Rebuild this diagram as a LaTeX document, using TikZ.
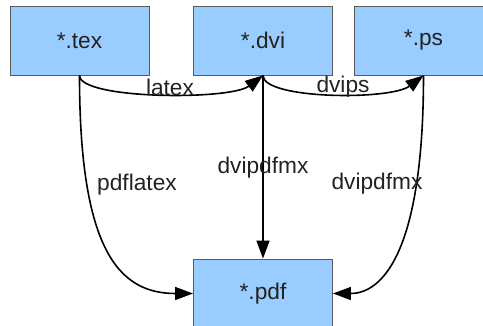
\documentclass[tikz,border=0pt]{standalone}
\usepackage{fontspec}
\setmainfont{Liberation Sans}
\usetikzlibrary{arrows.meta}
\definecolor{boxfill}{HTML}{99CCFF}
\definecolor{boxline}{HTML}{5A5A5A}
\definecolor{txt}{HTML}{222222}
\begin{document}
\begin{tikzpicture}[x=1pt,y=-1pt,
  filebox/.style={draw=boxline, line width=0.9pt, fill=boxfill, minimum width=139pt, minimum height=69pt, inner sep=0pt, text=txt, font=\fontsize{22.7}{27}\selectfont, anchor=center},
  lbl/.style={text=txt, font=\fontsize{22.7}{27}\selectfont, inner sep=0pt},
  conn/.style={line width=1.6pt, -{Triangle[length=18pt,width=13pt]}}]
\useasboundingbox (0,0) rectangle (483,326);
\begin{scope}
\clip (0,0) rectangle (483,326);
\node[filebox] (tex) at (79.5,40.5) {*.tex};
\node[filebox] (dvi) at (263,40.5) {*.dvi};
\node[filebox] (ps) at (423.5,40.5) {*.ps};
\node[filebox] (pdf) at (263,293.5) {*.pdf};
\end{scope}
\draw[conn] (tex.south) .. controls +(0,24) and +(-33,25) .. (dvi.south);
\draw[conn] (dvi.south) .. controls +(0,24) and +(-33,25) .. (ps.south);
\draw[conn] (dvi.south) -- (pdf.north);
\draw[conn] (tex.south) .. controls +(0,175) and +(-74,0) .. (pdf.west);
\draw[conn] (ps.south) .. controls +(0,175) and +(50,0) .. (pdf.east);
\node[lbl] (l1) at (170,87) {latex};
\node[lbl] (l2) at (343,87) {dvips};
\node[lbl] (l3) at (137,185) {pdflatex};
\node[lbl] (l4) at (263,168) {dvipdfmx};
\node[lbl] (l5) at (377,184) {dvipdfmx};
\end{tikzpicture}
\end{document}
